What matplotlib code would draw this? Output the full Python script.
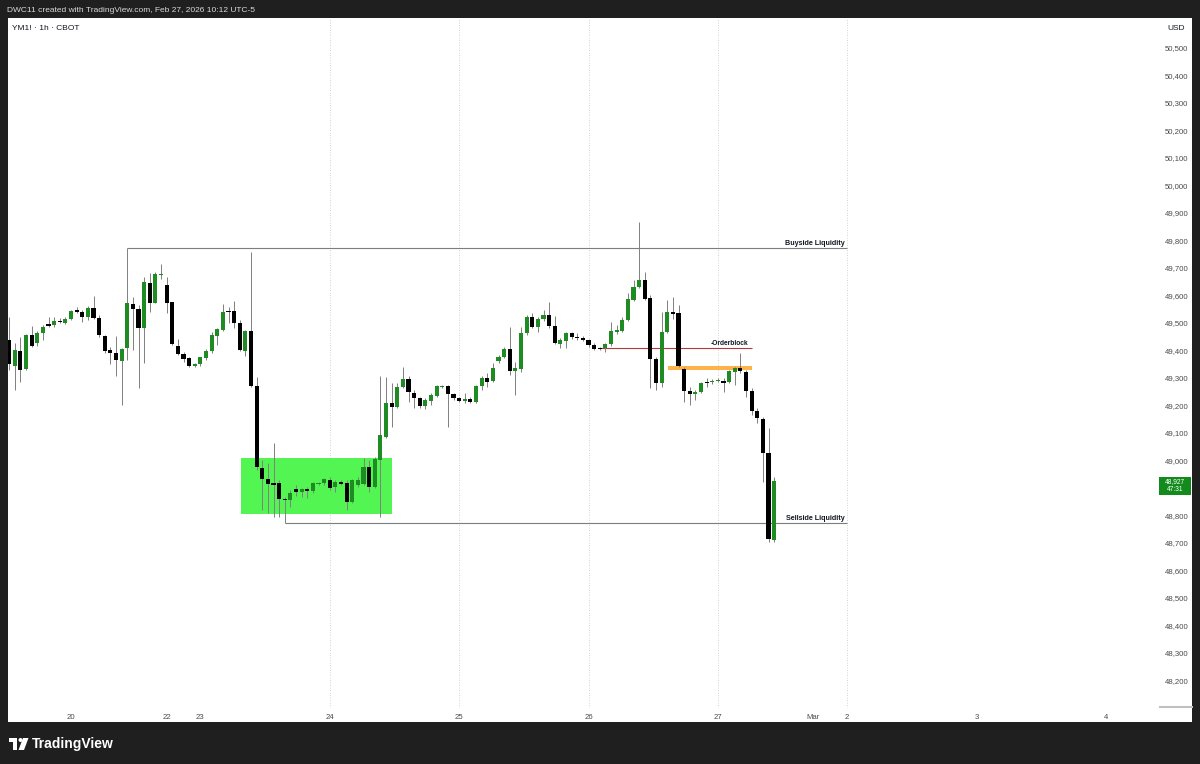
"""YM1! 1h chart with liquidity levels, TradingView-style snapshot."""

import matplotlib

matplotlib.use("Agg")
import numpy as np
from matplotlib import patches, transforms
from matplotlib import pyplot as plt
from matplotlib.lines import Line2D

plt.rcParams["font.family"] = ["Liberation Sans", "DejaVu Sans"]

W, H = 1200, 764

# hourly bars, first one is 11 hours before Fri Feb 20 00:00
FIRST_BAR = -11
opens = [
    49439, 49344, 49399, 49333, 49457, 49428, 49464, 49497, 49493, 49508,
    49501, 49515, 49548, 49540, 49522, 49555, 49519, 49453, 49402, 49391,
    49362, 49410, 49570, 49551, 49482, 49646, 49573, 49675, 49639, 49577,
    49417, 49388, 49373, 49344, 49352, 49373, 49399, 49453, 49475, 49544,
    49544, 49501, 49399, 49471, 49271, 48973, 48933, 48919, 48919, 48861,
    48857, 48897, 48886, 48897, 48890, 48915, 48919, 48930, 48904, 48922,
    48919, 48850, 48911, 48915, 48977, 48904, 49002, 49086, 49210, 49195,
    49268, 49297, 49246, 49228, 49199, 49217, 49235, 49268, 49271, 49242,
    49228, 49217, 49224, 49213, 49271, 49301, 49290, 49362, 49377, 49406,
    49326, 49333, 49464, 49522, 49486, 49515, 49530, 49490, 49424, 49435,
    49464, 49450, 49446, 49439, 49421, 49410, 49410, 49424, 49468, 49471,
    49511, 49584, 49631, 49657, 49591, 49370, 49282, 49468, 49540, 49537,
    49333, 49253, 49242, 49250, 49286, 49286, 49290, 49290, 49286, 49322,
    49337, 49322, 49253, 49181, 49151, 49028, 48711,
]
highs = [
    49522, 49428, 49450, 49461, 49490, 49471, 49493, 49522, 49522, 49519,
    49522, 49548, 49559, 49548, 49562, 49599, 49530, 49457, 49413, 49453,
    49410, 49773, 49595, 49566, 49668, 49682, 49686, 49715, 49668, 49577,
    49442, 49395, 49377, 49355, 49377, 49406, 49468, 49482, 49570, 49559,
    49580, 49511, 49475, 49758, 49304, 49002, 48991, 49064, 48930, 48868,
    48893, 48911, 48901, 48904, 48922, 48922, 48937, 48941, 48930, 48930,
    48930, 48933, 48941, 49010, 49002, 49013, 49308, 49304, 49282, 49282,
    49340, 49308, 49257, 49231, 49228, 49246, 49275, 49275, 49275, 49246,
    49231, 49246, 49231, 49275, 49308, 49319, 49355, 49384, 49413, 49486,
    49359, 49486, 49530, 49537, 49522, 49548, 49577, 49526, 49446, 49468,
    49468, 49464, 49453, 49442, 49428, 49413, 49428, 49504, 49493, 49522,
    49610, 49657, 49867, 49686, 49602, 49377, 49540, 49584, 49595, 49566,
    49340, 49268, 49257, 49286, 49301, 49297, 49301, 49301, 49330, 49340,
    49391, 49330, 49264, 49191, 49159, 49119, 48941,
]
lows = [
    49330, 49257, 49286, 49330, 49413, 49417, 49439, 49486, 49486, 49501,
    49497, 49511, 49537, 49504, 49511, 49515, 49450, 49391, 49352, 49308,
    49202, 49366, 49402, 49264, 49355, 49540, 49573, 49661, 49537, 49421,
    49384, 49359, 49340, 49340, 49344, 49366, 49391, 49421, 49471, 49501,
    49482, 49399, 49381, 49268, 48966, 48820, 48810, 48795, 48795, 48773,
    48831, 48871, 48868, 48864, 48882, 48911, 48911, 48893, 48886, 48911,
    48820, 48846, 48904, 48911, 48886, 48901, 48795, 49082, 49122, 49191,
    49264, 49213, 49191, 49191, 49188, 49202, 49231, 49264, 49122, 49221,
    49213, 49210, 49210, 49210, 49257, 49268, 49286, 49355, 49373, 49312,
    49239, 49322, 49457, 49482, 49468, 49508, 49482, 49424, 49410, 49410,
    49442, 49439, 49435, 49413, 49402, 49402, 49395, 49417, 49461, 49468,
    49508, 49580, 49628, 49584, 49264, 49257, 49268, 49464, 49515, 49340,
    49213, 49202, 49221, 49246, 49268, 49279, 49286, 49250, 49282, 49275,
    49319, 49231, 49166, 49137, 48922, 48704, 48704,
]
closes = [
    49352, 49402, 49330, 49457, 49417, 49464, 49486, 49490, 49508, 49504,
    49515, 49544, 49540, 49522, 49555, 49519, 49457, 49399, 49391, 49366,
    49406, 49573, 49551, 49482, 49650, 49573, 49679, 49679, 49573, 49424,
    49388, 49370, 49344, 49352, 49377, 49399, 49457, 49479, 49540, 49540,
    49501, 49402, 49471, 49271, 48977, 48933, 48915, 48911, 48861, 48857,
    48882, 48886, 48897, 48890, 48919, 48919, 48933, 48901, 48922, 48915,
    48850, 48930, 48930, 48977, 48904, 49006, 49093, 49210, 49195, 49268,
    49297, 49250, 49228, 49199, 49221, 49239, 49271, 49271, 49242, 49228,
    49217, 49224, 49213, 49271, 49301, 49286, 49337, 49377, 49406, 49326,
    49337, 49464, 49522, 49486, 49515, 49530, 49490, 49428, 49439, 49464,
    49450, 49446, 49439, 49421, 49406, 49406, 49424, 49471, 49475, 49511,
    49588, 49631, 49657, 49588, 49370, 49282, 49468, 49540, 49533, 49344,
    49253, 49242, 49250, 49282, 49282, 49290, 49293, 49282, 49326, 49337,
    49326, 49253, 49181, 49155, 49028, 48715, 48927,
]

day_labels = ["20", "22", "23", "24", "25", "26", "27", "Mar", "2", "3", "4"]
day_bars = [0, 17, 23, 46, 69, 92, 115, 132, 138, 161, 184]
grid_bars = [46, 69, 92, 115, 138]
# 48,900 sits under the last-price tag, so the scale does not print it
price_ticks = [p for p in range(48200, 50600, 100) if p != 48900]

buyside_level = 49773
sellside_level = 48773
orderblock_level = 49409
orderblock_zone = (49329, 49344)
range_box = (48804, 49009)
countdown = "47:31"

FRAME = "#1f1f1f"
GREEN = "#1f8b23"
BLACK = "#000000"
WICK = "#808080"
TEXT = "#131722"
AXIS_TEXT = "#4a4a4a"


def fx(px):
    return px / W


def fy(py):
    return 1 - py / H


fig = plt.figure(figsize=(W / 100, H / 100), dpi=100, facecolor=FRAME)
fig.patches.append(
    patches.Rectangle((fx(8), fy(722)), fx(1184), 704 / H, transform=fig.transFigure,
                      facecolor="white", edgecolor="none", zorder=-5)
)
ax = fig.add_axes([fx(8), fy(708), fx(1150), 690 / H])
ax.set_zorder(1)
ax.set_facecolor("white")
ax.set_xlim(-11.2, 193.24)
ax.set_ylim(48100, 50609)
for spine in ax.spines.values():
    spine.set_visible(False)

# candles
o = np.array(opens)
h = np.array(highs)
lo = np.array(lows)
c = np.array(closes)
bars = np.arange(len(o)) + FIRST_BAR
colors = np.where(c >= o, GREEN, BLACK)
ax.vlines(bars, lo, h, color=WICK, linewidth=0.7, zorder=3)
ax.bar(bars, np.maximum(np.abs(c - o), 3), bottom=np.minimum(o, c), width=0.72,
       color=colors, linewidth=0, zorder=4)

for b in grid_bars:
    ax.axvline(b, color="#c4c4c4", linewidth=0.6, linestyle=(0, (1, 2)), zorder=1)

# drawings
ax.add_patch(patches.Rectangle((30.2, range_box[0]), 26.9, range_box[1] - range_box[0],
                               facecolor="#52f552", edgecolor="none", zorder=2))
ax.hlines(buyside_level, 10, 138, color="#7d7d7d", linewidth=0.8, zorder=2.5)
ax.hlines(sellside_level, 38, 138, color="#7d7d7d", linewidth=0.8, zorder=2.5)
ax.hlines(orderblock_level, 93.7, 121.1, color="#b23a3a", linewidth=0.8, zorder=2.5)
ax.add_patch(patches.Rectangle((106.1, orderblock_zone[0]), 15.0,
                               orderblock_zone[1] - orderblock_zone[0],
                               facecolor="#ffb14a", edgecolor="none", zorder=2.6))
ax.text(137.6, 49789, "Buyside Liquidity", ha="right", va="center", fontsize=5.1,
        fontweight="bold", color=TEXT)
ax.text(137.6, 48789, "Sellside Liquidity", ha="right", va="center", fontsize=5.1,
        fontweight="bold", color=TEXT)
ax.text(120.5, 49425, "-Orderblock", ha="right", va="center", fontsize=4.8,
        fontweight="bold", color=TEXT)

# axes
ax.yaxis.tick_right()
ax.set_yticks(price_ticks)
ax.set_yticklabels([f"{p:,}" for p in price_ticks])
ax.tick_params(axis="y", length=0, pad=5, labelsize=5.6, labelcolor=AXIS_TEXT)
ax.set_xticks(day_bars)
ax.set_xticklabels(day_labels)
ax.tick_params(axis="x", length=0, pad=4, labelsize=5.6, labelcolor=AXIS_TEXT)

# last price tag
blend = transforms.blended_transform_factory(ax.transAxes, ax.transData)
ax.add_patch(patches.Rectangle((1.001, 48875), 0.0278, 66, transform=blend,
                               facecolor="#138a1c", edgecolor="none", clip_on=False, zorder=6))
ax.text(1.0148, 48908, f"{closes[-1]:,}\n{countdown}", transform=blend, ha="center",
        va="center", fontsize=4.8, linespacing=1.15, color="white", clip_on=False, zorder=7)

fig.add_artist(Line2D([fx(1160), fx(1192)], [fy(707), fy(707)], color="#c0c0c0",
                      linewidth=1.5, transform=fig.transFigure))

# header / footer
fig.text(fx(7), fy(10), "DWC11 created with TradingView.com, Feb 27, 2026 10:12 UTC-5",
         ha="left", va="center", fontsize=6, color="#d9d9d9")
fig.text(fx(12), fy(28), "YM1! · 1h · CBOT", ha="left", va="center", fontsize=6,
         color=TEXT, zorder=5)
fig.text(fx(1176), fy(28), "USD", ha="center", va="center", fontsize=6, color=TEXT,
         zorder=5)

logo = [
    patches.Rectangle((fx(9), fy(742)), fx(8), 4 / H),
    patches.Rectangle((fx(13), fy(750)), fx(4), 12 / H),
    patches.Ellipse((fx(20.5), fy(740)), fx(4), 4 / H),
    patches.Polygon([(fx(23), fy(738)), (fx(28.5), fy(738)), (fx(24), fy(750)),
                     (fx(18.5), fy(750))]),
]
for part in logo:
    part.set_transform(fig.transFigure)
    part.set_facecolor("white")
    part.set_edgecolor("none")
    fig.patches.append(part)
fig.text(fx(32), fy(744), "TradingView", ha="left", va="center", fontsize=10,
         fontweight="bold", color="white")

fig.savefig("out.png", dpi=100, facecolor=FRAME)
